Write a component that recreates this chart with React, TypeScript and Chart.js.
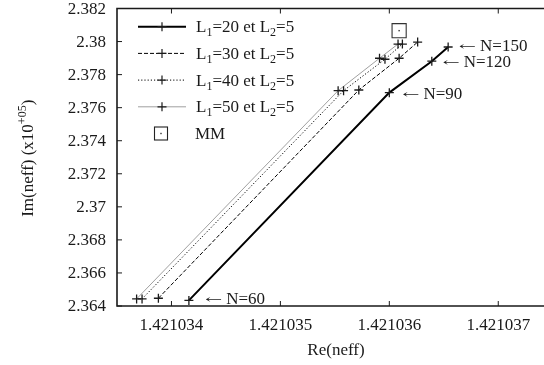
import React, { useEffect, useRef } from "react";
import { Chart, registerables } from "chart.js";
Chart.register(...registerables);

// ---- data ----
const L1_VALUES = ["20", "30", "40", "50"];
const L2_VALUE = "5";
const RE_L20 = [1.42103416, 1.421036, 1.42103639, 1.42103654];
const IM_L20 = [2.36434, 2.37691, 2.37881, 2.37967];
const RE_L30 = [1.42103388, 1.42103572, 1.42103609, 1.42103626];
const IM_L30 = [2.36447, 2.37707, 2.37899, 2.37997];
const RE_L40 = [1.42103373, 1.42103558, 1.42103596, 1.42103612];
const IM_L40 = [2.36443, 2.37703, 2.37893, 2.37985];
const RE_L50 = [1.42103368, 1.42103553, 1.42103591, 1.42103608];
const IM_L50 = [2.36443, 2.37703, 2.37899, 2.37985];
const RE_MM = [1.42103609];
const IM_MM = [2.38066];
const N_LABELS = ["N=60", "N=90", "N=120", "N=150"];
const LABEL_RE = [1.42103431, 1.42103612, 1.42103649, 1.42103664];
const LABEL_IM = [2.36443, 2.37686, 2.37878, 2.37975];
const X_TICKS = [1.421034, 1.421035, 1.421036, 1.421037];
const Y_TICKS = [2.364, 2.366, 2.368, 2.37, 2.372, 2.374, 2.376, 2.378, 2.38, 2.382];
const X_MIN = 1.4210335;
const X_MAX = 1.42103742;
const Y_MIN = 2.364;
const Y_MAX = 2.382;

const FONT = '"Liberation Serif", "DejaVu Serif", serif';
const INK = "#1a1a1a";

type Part = { t: string; sub?: boolean; sup?: boolean };

function richWidth(ctx: CanvasRenderingContext2D, parts: Part[], size: number, small: number) {
  let w = 0;
  for (const p of parts) {
    ctx.font = `${p.sub || p.sup ? small : size}px ${FONT}`;
    w += ctx.measureText(p.t).width;
  }
  return w;
}

function drawRich(ctx: CanvasRenderingContext2D, parts: Part[], x: number, y: number, size: number, small: number) {
  let cx = x;
  ctx.textAlign = "left";
  ctx.textBaseline = "alphabetic";
  for (const p of parts) {
    ctx.font = `${p.sub || p.sup ? small : size}px ${FONT}`;
    const dy = p.sub ? 4 : p.sup ? -7 : 0;
    ctx.fillText(p.t, cx, y + dy);
    cx += ctx.measureText(p.t).width;
  }
}

const pts = (xs: number[], ys: number[]) => xs.map((x, i) => ({ x, y: ys[i] }));

const gnuplotPlugin = {
  id: "gnuplotDecor",
  afterDatasetsDraw(chart: any) {
    const { ctx, chartArea: a, scales } = chart;
    const xs = scales.x;
    const ys = scales.y;
    ctx.save();
    // MM dot
    ctx.fillStyle = "#333";
    RE_MM.forEach((v, i) => {
      const px = xs.getPixelForValue(v);
      const py = ys.getPixelForValue(IM_MM[i]);
      ctx.fillRect(px - 0.7, py - 0.7, 1.4, 1.4);
    });

    // borders
    ctx.strokeStyle = INK;
    ctx.lineWidth = 1.6;
    ctx.beginPath();
    ctx.moveTo(a.right + 5, a.top);
    ctx.lineTo(a.left, a.top);
    ctx.lineTo(a.left, a.bottom);
    ctx.lineTo(a.right + 5, a.bottom);
    ctx.stroke();

    // inward ticks
    ctx.lineWidth = 1;
    ctx.beginPath();
    for (const v of Y_TICKS) {
      const py = ys.getPixelForValue(v);
      ctx.moveTo(a.left, py);
      ctx.lineTo(a.left + 5, py);
    }
    for (const v of X_TICKS) {
      const px = xs.getPixelForValue(v);
      ctx.moveTo(px, a.bottom);
      ctx.lineTo(px, a.bottom - 5);
      ctx.moveTo(px, a.top);
      ctx.lineTo(px, a.top + 5);
    }
    ctx.stroke();

    // tick labels
    ctx.fillStyle = INK;
    ctx.font = `17px ${FONT}`;
    ctx.textAlign = "right";
    ctx.textBaseline = "middle";
    for (const v of Y_TICKS) {
      ctx.fillText(String(parseFloat(v.toFixed(3))), a.left - 11, ys.getPixelForValue(v) + 1);
    }
    ctx.textAlign = "center";
    for (const v of X_TICKS) {
      ctx.fillText(v.toFixed(6), xs.getPixelForValue(v), a.bottom + 20);
    }

    // axis titles
    ctx.fillText("Re(neff)", 336, a.bottom + 45);
    const yt: Part[] = [{ t: "Im(neff) (x10" }, { t: "+05", sup: true }, { t: ")" }];
    ctx.save();
    ctx.translate(33, (a.top + a.bottom) / 2 + 1);
    ctx.rotate(-Math.PI / 2);
    const w = richWidth(ctx, yt, 17, 12);
    drawRich(ctx, yt, -w / 2, 0, 17, 12);
    ctx.restore();

    // N labels: stretched arrow + text
    ctx.textAlign = "left";
    ctx.textBaseline = "middle";
    N_LABELS.forEach((lab, i) => {
      const lx = xs.getPixelForValue(LABEL_RE[i]);
      const ly = ys.getPixelForValue(LABEL_IM[i]) + 1;
      ctx.font = `17px "DejaVu Serif", serif`;
      const aw = ctx.measureText("\u2190").width || 14;
      ctx.save();
      ctx.translate(lx, ly);
      ctx.scale(17 / aw, 0.7);
      ctx.fillText("\u2190", 0, 0);
      ctx.restore();
      ctx.font = `17px ${FONT}`;
      ctx.fillText(lab, lx + 21, ly);
    });

    // legend
    const ds = chart.data.datasets;
    const rowY = (i: number) => 26.7 + i * 26.7;
    L1_VALUES.forEach((l1, i) => {
      const d = ds[i];
      const y = rowY(i);
      ctx.strokeStyle = d.borderColor;
      ctx.lineWidth = d.borderWidth;
      ctx.setLineDash(d.borderDash || []);
      ctx.beginPath();
      ctx.moveTo(138, y);
      ctx.lineTo(186, y);
      ctx.stroke();
      ctx.setLineDash([]);
      ctx.strokeStyle = INK;
      ctx.lineWidth = 1.2;
      ctx.beginPath();
      ctx.moveTo(157.5, y);
      ctx.lineTo(166.5, y);
      ctx.moveTo(162, y - 4.5);
      ctx.lineTo(162, y + 4.5);
      ctx.stroke();
      ctx.fillStyle = INK;
      drawRich(
        ctx,
        [{ t: "L" }, { t: "1", sub: true }, { t: "=" + l1 + " et L" }, { t: "2", sub: true }, { t: "=" + L2_VALUE }],
        196,
        y + 5.5,
        17,
        12
      );
    });
    const my = rowY(4);
    ctx.strokeStyle = "#222";
    ctx.lineWidth = 1.1;
    ctx.strokeRect(154.5, my - 6.5, 13, 13);
    ctx.fillStyle = "#333";
    ctx.fillRect(160.3, my - 0.7, 1.4, 1.4);
    ctx.fillStyle = INK;
    drawRich(ctx, [{ t: "MM" }], 195, my + 5.5, 17, 12);
    ctx.restore();
  },
};

export default function App() {
  const ref = useRef<HTMLCanvasElement | null>(null);
  useEffect(() => {
    if (!ref.current) return;
    const cross = { pointStyle: "cross", pointRadius: 4.5, pointBorderColor: INK, pointBorderWidth: 1.3, showLine: true };
    const chart = new Chart(ref.current, {
      type: "scatter",
      data: {
        datasets: [
          { label: "L1=20", data: pts(RE_L20, IM_L20), borderColor: "#000", borderWidth: 2, ...cross } as any,
          { label: "L1=30", data: pts(RE_L30, IM_L30), borderColor: "#000", borderWidth: 1, borderDash: [4, 2], ...cross } as any,
          { label: "L1=40", data: pts(RE_L40, IM_L40), borderColor: "#000", borderWidth: 1, borderDash: [1.2, 2], ...cross } as any,
          { label: "L1=50", data: pts(RE_L50, IM_L50), borderColor: "#888", borderWidth: 0.8, ...cross } as any,
          {
            label: "MM",
            data: pts(RE_MM, IM_MM),
            pointStyle: "rect",
            pointRadius: 10,
            pointBorderColor: "#333",
            pointBorderWidth: 1.1,
            pointBackgroundColor: "rgba(0,0,0,0)",
            showLine: false,
          } as any,
        ],
      },
      options: {
        animation: false,
        responsive: false,
        devicePixelRatio: 1,
        layout: { autoPadding: false, padding: { left: 117, top: 8.5, right: 0, bottom: 59 } },
        plugins: { legend: { display: false }, tooltip: { enabled: false } },
        scales: {
          x: {
            type: "linear",
            display: false,
            min: X_MIN,
            max: X_MAX,
            afterBuildTicks: (s: any) => {
              s.ticks = X_TICKS.map((value) => ({ value }));
            },
          },
          y: {
            type: "linear",
            display: false,
            min: Y_MIN,
            max: Y_MAX,
            afterBuildTicks: (s: any) => {
              s.ticks = Y_TICKS.map((value) => ({ value }));
            },
          },
        },
      } as any,
      plugins: [gnuplotPlugin],
    });
    return () => chart.destroy();
  }, []);
  return (
    <div style={{ position: "fixed", left: 0, top: 0, width: 544, height: 365, background: "#fff" }}>
      <canvas ref={ref} width={544} height={365} style={{ display: "block" }} />
    </div>
  );
}
